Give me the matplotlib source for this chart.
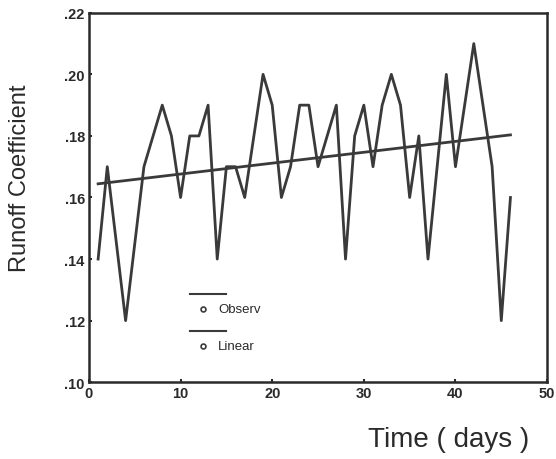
import numpy as np
import matplotlib
matplotlib.use('Agg')
import matplotlib.pyplot as plt

plt.rcParams['font.family'] = ['Liberation Sans', 'DejaVu Sans']

# 관측 유출계수 (일 1~46)
days = list(range(1, 47))
observ = [0.14, 0.17, 0.145, 0.12, 0.145, 0.17, 0.18, 0.19, 0.18, 0.16,
          0.18, 0.18, 0.19, 0.14, 0.17, 0.17, 0.16, 0.18, 0.20, 0.19,
          0.16, 0.17, 0.19, 0.19, 0.17, 0.18, 0.19, 0.14, 0.18, 0.19,
          0.17, 0.19, 0.20, 0.19, 0.16, 0.18, 0.14, 0.17, 0.20, 0.17,
          0.19, 0.21, 0.19, 0.17, 0.12, 0.16]
x_ticks = [0, 10, 20, 30, 40, 50]
y_ticks = [0.10, 0.12, 0.14, 0.16, 0.18, 0.20, 0.22]
y_ticklabels = ['.10', '.12', '.14', '.16', '.18', '.20', '.22']

# 선형 추세
slope, intercept = np.polyfit(days, observ, 1)
linear = [slope * d + intercept for d in days]

line_color = '#3a3a3a'
text_color = '#2a2a2a'
fig = plt.figure(figsize=(5.56, 4.60), dpi=100)
ax = fig.add_axes([0.160, 0.167, 0.824, 0.803])

ax.plot(days, observ, color=line_color, lw=2.0)
ax.plot(days, linear, color=line_color, lw=2.0)

ax.set_xlim(0, 50)
ax.set_ylim(0.10, 0.22)
ax.set_xticks(x_ticks)
ax.set_yticks(y_ticks)
ax.set_yticklabels(y_ticklabels)
ax.tick_params(length=2, width=1.5, direction='in', colors=text_color,
               labelsize=10.5, pad=3)
for lab in ax.get_xticklabels() + ax.get_yticklabels():
    lab.set_fontweight('bold')
for sp in ax.spines.values():
    sp.set_linewidth(1.8)
    sp.set_color(text_color)

fig.text(0.036, 0.613, 'Runoff Coefficient', fontsize=17, color=text_color,
         rotation=90, ha='center', va='center')
fig.text(0.806, 0.043, 'Time ( days )', fontsize=20, color=text_color,
         ha='center', va='center')

# SPSS 스타일 범례
for (ly, my, name) in [(0.2385, 0.198, 'Observ'), (0.138, 0.0976, 'Linear')]:
    ax.plot([0.2205, 0.299], [ly, ly], color=line_color, lw=1.5,
            transform=ax.transAxes)
    ax.plot([0.249], [my], marker='o', ms=3.5, mfc='white', mec=line_color,
            mew=1.2, transform=ax.transAxes)
    ax.text(0.282, my, name, fontsize=9.5, color=text_color, va='center',
            transform=ax.transAxes)

fig.savefig('out.png', dpi=100)
